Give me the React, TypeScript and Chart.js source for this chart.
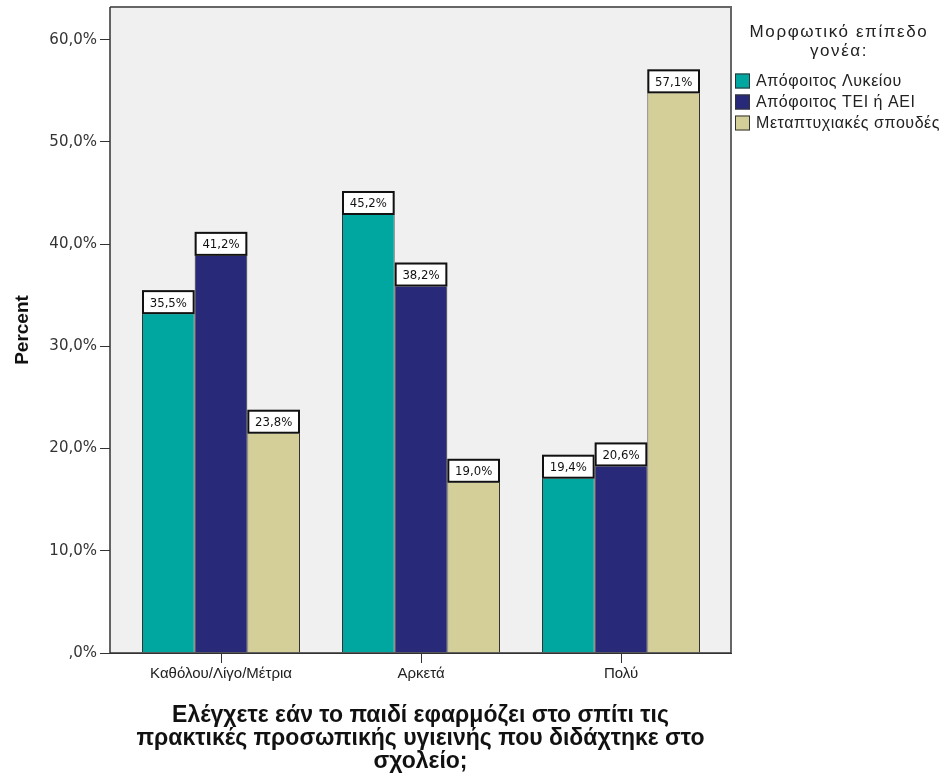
import React, { useEffect, useRef } from "react";
import { Chart, registerables } from "chart.js";

Chart.register(...registerables);

const categories = ["Καθόλου/Λίγο/Μέτρια", "Αρκετά", "Πολύ"];
const seriesNames = ["Απόφοιτος Λυκείου", "Απόφοιτος ΤΕΙ ή ΑΕΙ", "Μεταπτυχιακές σπουδές"];
const lykeiou = [35.5, 45.2, 19.4];
const teiAei = [41.2, 38.2, 20.6];
const metaptyxiakes = [23.8, 19.0, 57.1];
const colors = ["#00A6A0", "#29297A", "#D4CF98"];
const yTicks = [0, 10, 20, 30, 40, 50, 60];
const yTitle = "Percent";
const xTitle = [
  "Ελέγχετε εάν το παιδί εφαρμόζει στο σπίτι τις",
  "πρακτικές προσωπικής υγιεινής που διδάχτηκε στο",
  "σχολείο;",
];
const legendTitle = ["Μορφωτικό επίπεδο", "γονέα:"];

const fmt = (v: number) => (v === 0 ? ",0%" : v.toFixed(1).replace(".", ",") + "%");

export default function App() {
  const ref = useRef<HTMLCanvasElement>(null);
  useEffect(() => {
    document.body.style.margin = "0";
    const canvas = ref.current!;
    const bgPlugin = {
      id: "bgPlugin",
      beforeDatasetsDraw(chart: any) {
        const { ctx, chartArea: a } = chart;
        ctx.save();
        ctx.fillStyle = "#F0F0F0";
        ctx.fillRect(a.left, a.top, a.right - a.left, a.bottom - a.top);
        ctx.restore();
      },
      afterDraw(chart: any) {
        const { ctx, chartArea: a } = chart;
        ctx.save();
        ctx.strokeStyle = "#666";
        ctx.lineWidth = 2;
        ctx.beginPath();
        ctx.moveTo(a.left, a.top);
        ctx.lineTo(a.right, a.top);
        ctx.lineTo(a.right, a.bottom);
        ctx.stroke();
        ctx.strokeStyle = "#333";
        ctx.lineWidth = 1.5;
        ctx.beginPath();
        ctx.moveTo(a.left, a.top);
        ctx.lineTo(a.left, a.bottom);
        ctx.lineTo(a.right, a.bottom);
        ctx.stroke();
        ctx.restore();

        // legend
        ctx.save();
        const cx = a.right + 108;
        ctx.fillStyle = "#222";
        ctx.textAlign = "center";
        ctx.textBaseline = "middle";
        (ctx as any).letterSpacing = "1.6px";
        ctx.font = "17px 'Liberation Sans', Arial, sans-serif";
        legendTitle.forEach((t, i) => ctx.fillText(t, cx, 32 + i * 19));
        ctx.textAlign = "left";
        (ctx as any).letterSpacing = "0.55px";
        ctx.font = "16px 'Liberation Sans', Arial, sans-serif";
        seriesNames.forEach((n, i) => {
          const y = 81 + i * 21;
          ctx.fillStyle = colors[i];
          ctx.fillRect(a.right + 4, y - 7.5, 15, 15);
          ctx.strokeStyle = "#333";
          ctx.lineWidth = 1;
          ctx.strokeRect(a.right + 4.5, y - 7, 14, 14);
          ctx.fillStyle = "#222";
          ctx.fillText(n, a.right + 25, y + 1);
        });
        ctx.restore();
      },
      afterDatasetsDraw(chart: any) {
        const { ctx } = chart;
        ctx.save();
        chart.data.datasets.forEach((ds: any, di: number) => {
          const meta = chart.getDatasetMeta(di);
          meta.data.forEach((el: any, j: number) => {
            const w = el.width;
            const x0 = el.x - w / 2;
            const y0 = el.y;
            ctx.fillStyle = "#fff";
            ctx.fillRect(x0, y0, w, 24);
            ctx.strokeStyle = "#111";
            ctx.lineWidth = 2;
            ctx.strokeRect(x0 + 1, y0 + 1, w - 2, 22);
            ctx.fillStyle = "#111";
            ctx.textAlign = "center";
            ctx.textBaseline = "middle";
            ctx.font = "13px 'DejaVu Sans Condensed', 'DejaVu Sans', sans-serif";
            ctx.fillText(ds.data[j].y.toFixed(1).replace(".", ",") + "%", el.x, y0 + 13);
          });
        });
        ctx.restore();
      },
    };

    const chart = new Chart(canvas, {
      type: "bar",
      data: {
        datasets: [lykeiou, teiAei, metaptyxiakes].map((d, i) => ({
          label: seriesNames[i],
          data: d.map((v, k) => ({ x: k, y: v })),
          backgroundColor: colors[i],
          borderColor: "#333",
          borderWidth: 1,
          barPercentage: 1,
          categoryPercentage: 0.79,
        })),
      },
      options: {
        responsive: false,
        animation: false,
        layout: { padding: { left: 0, top: 7, right: 214, bottom: 0 } },
        plugins: { legend: { display: false }, tooltip: { enabled: false } },
        scales: {
          x: {
            type: "linear",
            offset: false,
            min: -0.555,
            max: 2.55,
            grid: { display: true, drawOnChartArea: false, offset: false, tickLength: 10, color: "#333" },
            border: { display: true, color: "#333", width: 1 },
            afterBuildTicks(scale: any) {
              scale.ticks = categories.map((_, k) => ({ value: k }));
            },
            ticks: {
              color: "#222",
              font: { family: "'Liberation Sans', Arial, sans-serif", size: 15 },
              padding: 2,
              maxRotation: 0,
              autoSkip: false,
              callback: (v: any) => categories[Math.round(Number(v))] ?? "",
            },
            title: {
              display: true,
              text: xTitle,
              color: "#111",
              font: { family: "'Liberation Sans', Arial, sans-serif", size: 23, weight: "bold", lineHeight: 1 },
              padding: { top: 0, bottom: 3 },
            },
            afterFit(scale: any) {
              scale.height = 123;
              scale.paddingLeft = 0;
              scale.paddingRight = 0;
            },
          },
          y: {
            min: 0,
            max: 63.2,
            grid: { display: true, drawOnChartArea: false, tickLength: 10, color: "#333" },
            border: { display: true, color: "#333", width: 1 },
            afterBuildTicks(scale: any) {
              scale.ticks = yTicks.map((v) => ({ value: v }));
            },
            ticks: {
              color: "#333",
              font: { family: "'DejaVu Sans', sans-serif", size: 15 },
              padding: 3,
              callback: (v: any) => fmt(Number(v)),
            },
            title: {
              display: true,
              text: yTitle,
              color: "#111",
              font: { family: "'Liberation Sans', Arial, sans-serif", size: 19, weight: "bold" },
              padding: { top: 11, bottom: 0 },
            },
            afterFit(scale: any) {
              scale.width = 110;
              scale.paddingTop = 0;
              scale.paddingBottom = 0;
            },
          },
        },
      },
      plugins: [bgPlugin],
    });
    return () => chart.destroy();
  }, []);
  return <canvas ref={ref} width={945} height={776} />;
}
